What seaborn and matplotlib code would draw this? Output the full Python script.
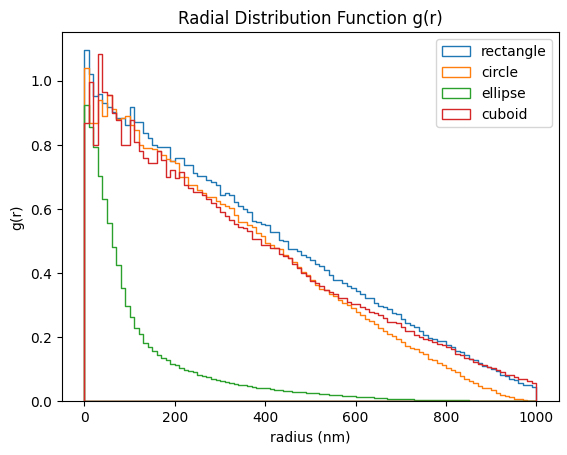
import numpy as np
import matplotlib
matplotlib.use("Agg")
import matplotlib.pyplot as plt
import seaborn as sns

# radial bins, 10 nm wide
edges = list(range(0, 1001, 10))
centers = np.arange(5, 1000, 10)

shapes = ["rectangle", "circle", "ellipse", "cuboid"]
colors = ["#1f77b4", "#ff7f0e", "#2ca02c", "#d62728"]

rectangle = [
    1.097, 1.021, 0.954, 0.960, 0.930, 0.920, 0.904, 0.885, 0.885, 0.862,
    0.920, 0.871, 0.871, 0.836, 0.823, 0.800, 0.795, 0.795, 0.795, 0.751,
    0.761, 0.758, 0.738, 0.738, 0.713, 0.703, 0.703, 0.690, 0.686, 0.675,
    0.644, 0.650, 0.644, 0.623, 0.609, 0.599, 0.592, 0.563, 0.559, 0.555,
    0.550, 0.529, 0.529, 0.505, 0.501, 0.474, 0.474, 0.470, 0.456, 0.449,
    0.440, 0.430, 0.422, 0.409, 0.394, 0.378, 0.378, 0.370, 0.359, 0.355,
    0.345, 0.334, 0.321, 0.321, 0.307, 0.296, 0.293, 0.287, 0.276, 0.272,
    0.258, 0.243, 0.238, 0.232, 0.220, 0.206, 0.199, 0.193, 0.188, 0.188,
    0.175, 0.168, 0.158, 0.154, 0.144, 0.133, 0.128, 0.121, 0.110, 0.107,
    0.100, 0.094, 0.083, 0.079, 0.069, 0.066, 0.058, 0.052, 0.050, 0.045,
]
circle = [
    1.040, 0.868, 0.868, 0.940, 0.892, 0.956, 0.914, 0.881, 0.885, 0.890,
    0.862, 0.848, 0.800, 0.792, 0.792, 0.788, 0.780, 0.770, 0.755, 0.751,
    0.743, 0.699, 0.699, 0.675, 0.675, 0.659, 0.649, 0.638, 0.638, 0.625,
    0.615, 0.610, 0.602, 0.581, 0.560, 0.560, 0.550, 0.545, 0.526, 0.516,
    0.493, 0.488, 0.480, 0.474, 0.456, 0.446, 0.435, 0.420, 0.405, 0.394,
    0.380, 0.363, 0.352, 0.347, 0.334, 0.328, 0.316, 0.307, 0.300, 0.290,
    0.280, 0.270, 0.258, 0.250, 0.240, 0.230, 0.220, 0.209, 0.203, 0.196,
    0.185, 0.172, 0.165, 0.162, 0.154, 0.147, 0.133, 0.128, 0.120, 0.112,
    0.104, 0.097, 0.090, 0.079, 0.069, 0.063, 0.058, 0.048, 0.042, 0.040,
    0.034, 0.027, 0.021, 0.017, 0.013, 0.008, 0.006, 0.003, 0.001, 0.000,
]
ellipse = [
    0.925, 0.855, 0.795, 0.703, 0.630, 0.556, 0.483, 0.427, 0.353, 0.297,
    0.264, 0.229, 0.210, 0.182, 0.170, 0.158, 0.144, 0.134, 0.130, 0.118,
    0.113, 0.104, 0.098, 0.094, 0.090, 0.083, 0.080, 0.075, 0.071, 0.067,
    0.063, 0.060, 0.057, 0.055, 0.052, 0.050, 0.047, 0.045, 0.043, 0.041,
    0.040, 0.038, 0.036, 0.034, 0.033, 0.031, 0.030, 0.029, 0.028, 0.027,
    0.026, 0.025, 0.024, 0.022, 0.021, 0.020, 0.019, 0.018, 0.017, 0.016,
    0.015, 0.014, 0.013, 0.012, 0.011, 0.010, 0.009, 0.008, 0.008, 0.007,
    0.007, 0.0065, 0.006, 0.0055, 0.005, 0.005, 0.0045, 0.004, 0.004, 0.0035,
    0.0035, 0.003, 0.003, 0.003, 0.003, 0.0025, 0.0025, 0.0025, 0.0025, 0.000,
    0.000, 0.000, 0.000, 0.000, 0.000, 0.000, 0.000, 0.000, 0.000, 0.000,
]
cuboid = [
    0.870, 0.996, 0.800, 1.083, 0.965, 0.956, 0.900, 0.878, 0.800, 0.800,
    0.878, 0.810, 0.780, 0.758, 0.743, 0.743, 0.782, 0.752, 0.700, 0.722,
    0.696, 0.717, 0.675, 0.667, 0.654, 0.654, 0.644, 0.630, 0.620, 0.605,
    0.590, 0.578, 0.567, 0.553, 0.545, 0.540, 0.532, 0.508, 0.508, 0.488,
    0.488, 0.480, 0.478, 0.460, 0.453, 0.446, 0.430, 0.415, 0.400, 0.391,
    0.376, 0.368, 0.359, 0.349, 0.342, 0.336, 0.324, 0.324, 0.310, 0.303,
    0.303, 0.293, 0.287, 0.280, 0.275, 0.269, 0.260, 0.248, 0.248, 0.243,
    0.232, 0.220, 0.220, 0.206, 0.201, 0.196, 0.190, 0.185, 0.178, 0.175,
    0.168, 0.162, 0.149, 0.144, 0.135, 0.131, 0.123, 0.118, 0.113, 0.107,
    0.104, 0.097, 0.092, 0.083, 0.081, 0.076, 0.071, 0.069, 0.063, 0.058,
]

series = [rectangle, circle, ellipse, cuboid]

fig, ax = plt.subplots(figsize=(5.67, 4.55), dpi=100)
fig.subplots_adjust(left=0.109, right=0.986, bottom=0.118, top=0.929)

for name, vals, c in zip(shapes, series, colors):
    sns.histplot(x=centers, weights=vals, bins=edges, element="step",
                 fill=True, color=c, facecolor="none", linewidth=1.0,
                 label=name, ax=ax)

ax.set_title("Radial Distribution Function g(r)")
ax.set_xlabel("radius (nm)")
ax.set_ylabel("g(r)")
ax.legend(loc="upper right")

fig.savefig("out.png")
